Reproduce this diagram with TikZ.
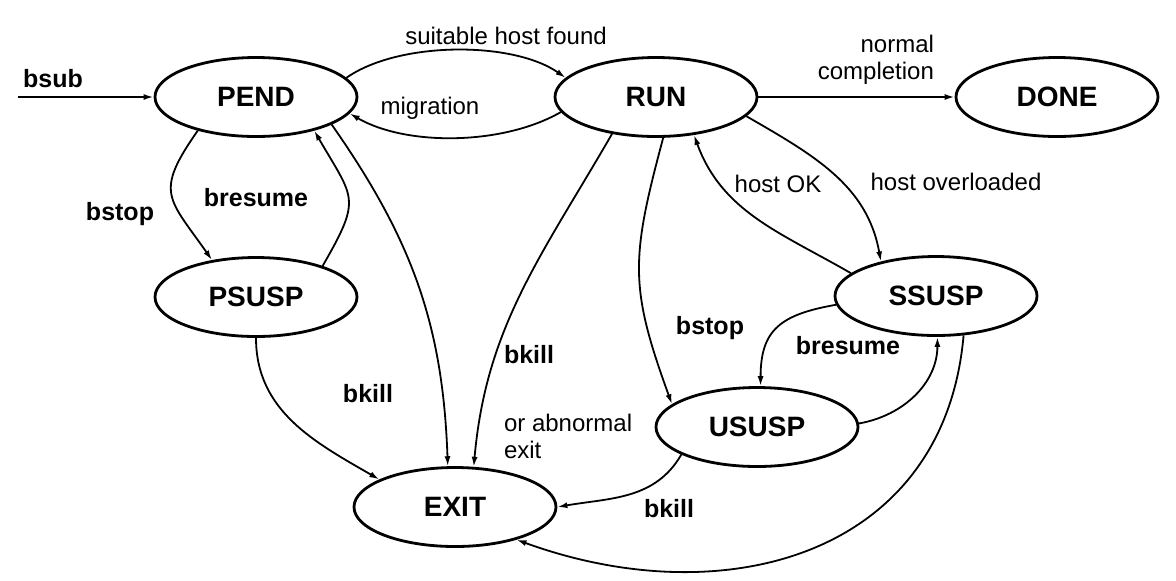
\documentclass[tikz,border=0pt]{standalone}
\usepackage{fontspec}
\setmainfont{Liberation Sans}
\usepackage{tikz}
\usetikzlibrary{positioning, arrows.meta, calc, shapes.geometric}
\tikzset{
    state/.style={
        ellipse,
        draw=black,
        line width=1.4pt,
        inner sep=0pt,
        minimum width=101pt,
        minimum height=39.5pt,
        font=\fontsize{14}{16}\selectfont\bfseries
    },
    trans/.style={
        line width=0.9pt,
        -{Latex[length=5pt,width=3pt]}
    },
    cmd/.style={
        font=\fontsize{12.5}{14}\selectfont\bfseries
    },
    note/.style={
        font=\fontsize{12}{13.5}\selectfont
    }
}

\begin{document}
\begin{tikzpicture}[x=0.5pt, y=-0.5pt]

\useasboundingbox (0,0) rectangle (1176,580);

%---------------- States ----------------

\node[state] (pend)  at (256,97)  {PEND};
\node[state] (run)   at (656,97)  {RUN};
\node[state] (done)  at (1057,97) {DONE};
\node[state] (psusp) at (256,297) {PSUSP};
\node[state] (ssusp) at (936,296) {SSUSP};
\node[state] (ususp) at (757,427) {USUSP};
\node[state] (exit)  at (455,507) {EXIT};

\coordinate (start) at (18,97);

%---------------- Top row ----------------

\draw[trans] (start) -- (pend.west);
\draw[trans] (pend.12) to[out=35, in=145, looseness=0.75] (run.168);
\draw[trans] (run.189) to[out=-150, in=-30, looseness=0.8] (pend.-10);
\draw[trans] (run.east) -- (done.west);

\node[cmd] (lsub) at (53,79) {bsub};
\node[note] (lfound) at (506,36) {suitable host found};
\node[note] (lmig) at (430,108) {migration};
\node[note, align=right, anchor=east] (ldone) at (941,60) {normal\\completion};

%---------------- Pending side ----------------

\draw[trans] (pend.210) to[out=235, in=125, looseness=1.5] (psusp.140);
\draw[trans] (psusp.25) to[out=60, in=-60, looseness=1.5] (pend.-30);
\draw[trans] (pend.-20) to[out=-55, in=92] (exit.100);
\draw[trans] (psusp.south) to[out=-90, in=150] (exit.160);

\node[cmd] (lpstop) at (120,214) {bstop};
\node[cmd] (lpres) at (256,198) {bresume};
\node[cmd] (lpkill) at (368,394) {bkill};

%---------------- Running side ----------------

\draw[trans] (run.220) to[out=-120, in=85] (exit.65);
\draw[trans] (run.-80) to[out=-105, in=110, looseness=1.2] (ususp.165);
\draw[trans] (ssusp.165) to[out=150, in=-70] (run.-45);
\draw[trans] (run.-12) to[out=-30, in=100] (ssusp.148);

\node[cmd] (lrkill) at (529,355) {bkill};
\node[note, align=left, anchor=west] (labn) at (497,436) {or abnormal\\exit};
\node[cmd] (lustop) at (710,328) {bstop};
\node[note] (lok) at (778,184) {host OK};
\node[note] (lover) at (956,182) {host overloaded};

%---------------- Suspended side ----------------

\draw[trans] (ssusp.185) to[out=190, in=90, looseness=1.3] (ususp.85);
\draw[trans] (ususp.2) to[out=10, in=-90] (ssusp.-88);
\draw[trans] (ususp.200) to[out=240, in=10] (exit.east);
\draw[trans] (ssusp.-55) to[out=-95, in=-20, looseness=1.15] (exit.-28);

\node[cmd] (lsres) at (848,346) {bresume};
\node[cmd] (lukill) at (669,509) {bkill};

\end{tikzpicture}
\end{document}
